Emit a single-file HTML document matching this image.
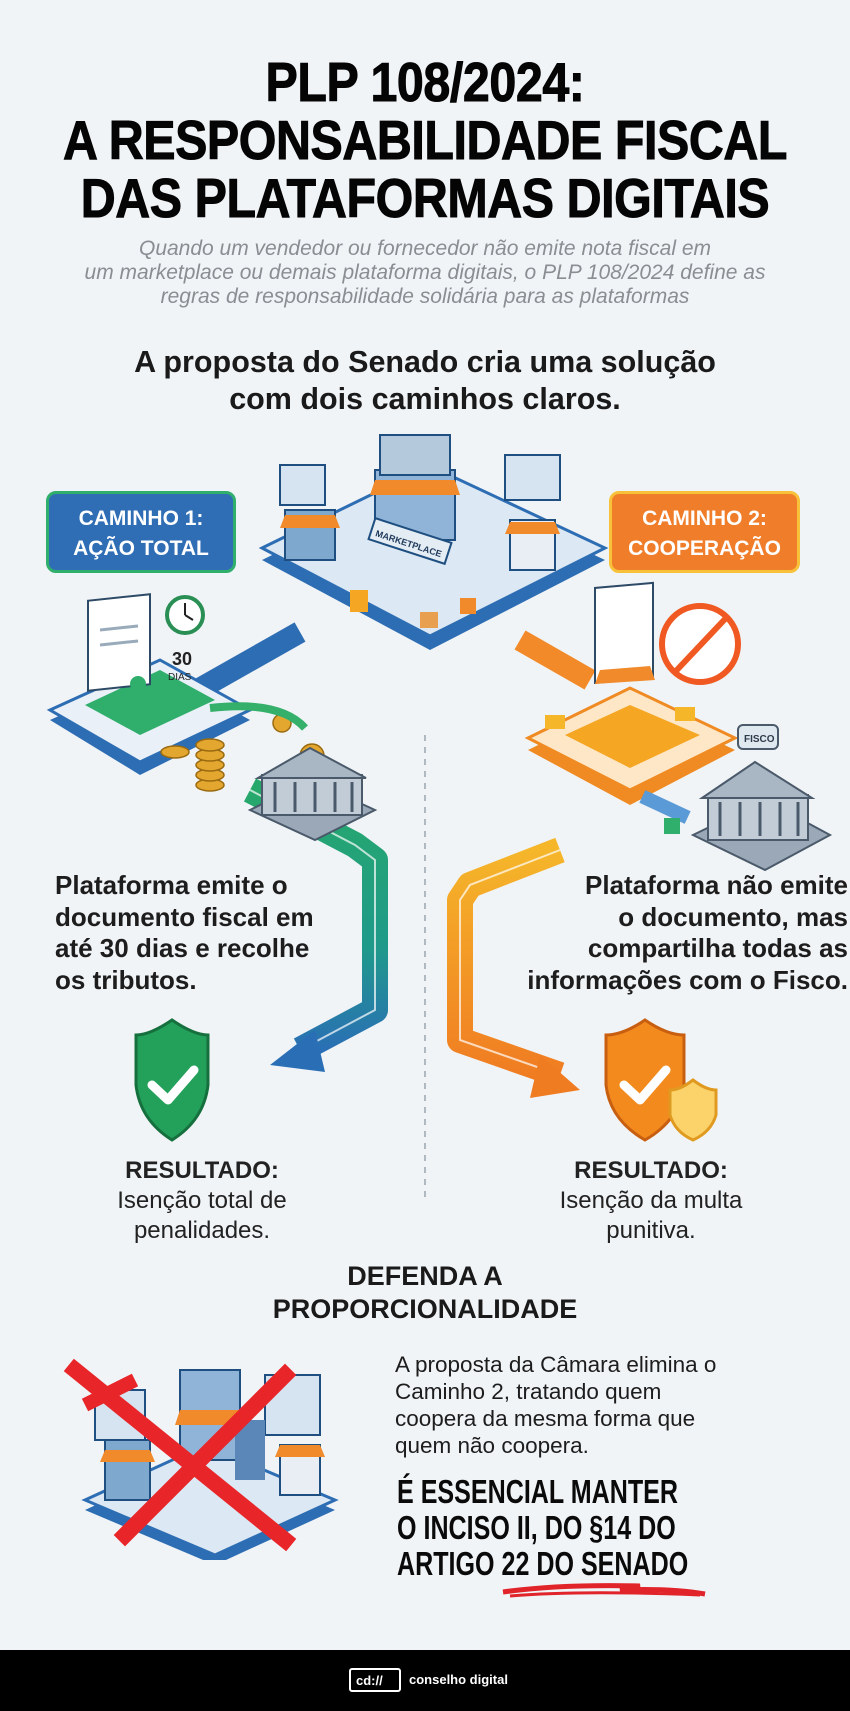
<!DOCTYPE html>
<html><head><meta charset="utf-8"><style>
*{margin:0;padding:0;box-sizing:border-box}
body{width:850px;height:1711px;background:#f1f4f7;font-family:"Liberation Sans",sans-serif;position:relative;overflow:hidden;color:#161616}
.a{position:absolute}
.t{left:0;width:850px;text-align:center;font-weight:bold;font-size:55px;line-height:60px;transform:scaleX(.88);transform-origin:425px 0;letter-spacing:-0.5px;color:#050505;-webkit-text-stroke:1px #050505}
.sub{left:0;width:850px;text-align:center;font-style:italic;color:#8a8d92;font-size:21px;line-height:24px}
.h2{left:0;width:850px;text-align:center;font-weight:bold;font-size:30.5px;line-height:37px;color:#1a1a1a}
.box{color:#fff;font-weight:bold;font-size:21px;line-height:30px;text-align:center;border-radius:10px;padding-top:10px}
.p{font-weight:bold;font-size:26px;line-height:31.5px;color:#1d1d1d}
.res{text-align:center;font-size:24px;line-height:30px;color:#222}
.cond{font-weight:bold;font-size:33px;line-height:36px;transform:scaleX(.76);transform-origin:0 0;color:#0a0a0a;white-space:nowrap}
</style></head><body>
<div class="a t" style="top:52px">PLP 108/2024:</div>
<div class="a t" style="top:110px">A RESPONSABILIDADE FISCAL</div>
<div class="a t" style="top:168px">DAS PLATAFORMAS DIGITAIS</div>
<div class="a sub" style="top:237px">Quando um vendedor ou fornecedor não emite nota fiscal em<br>um marketplace ou demais plataforma digitais, o PLP 108/2024 define as<br>regras de responsabilidade solidária para as plataformas</div>
<div class="a h2" style="top:344px">A proposta do Senado cria uma solução<br>com dois caminhos claros.</div>

<svg class="a" style="left:0;top:420px" width="850" height="780" viewBox="0 420 850 780">
<defs>
<linearGradient id="gA" x1="0" y1="0" x2="0" y2="1"><stop offset="0" stop-color="#27a86b"/><stop offset=".6" stop-color="#1f9a8a"/><stop offset="1" stop-color="#2a6fb5"/></linearGradient>
<linearGradient id="oA" x1="0" y1="0" x2="0" y2="1"><stop offset="0" stop-color="#f5b62a"/><stop offset="1" stop-color="#f07c22"/></linearGradient>
</defs>
<line x1="425" y1="735" x2="425" y2="1265" stroke="#9aa4ae" stroke-width="1.5" stroke-dasharray="6 6"/>
<path d="M300,632 L180,700" stroke="#2d6db3" stroke-width="22" fill="none"/>
<path d="M250,790 L355,845 L375,860 L375,1010 L300,1050" stroke="url(#gA)" stroke-width="26" fill="none" stroke-linejoin="round"/>
<path d="M250,790 L355,845 L375,860 L375,1010 L300,1050" stroke="#fff" stroke-width="2" fill="none" opacity=".7"/>
<polygon points="270,1065 315,1030 325,1072" fill="#2a6fb5"/>
<path d="M520,640 L590,680" stroke="#f28a2a" stroke-width="22" fill="none"/>
<path d="M560,850 L470,885 L460,900 L460,1040 L560,1075" stroke="url(#oA)" stroke-width="26" fill="none" stroke-linejoin="round"/>
<path d="M560,850 L470,885 L460,900 L460,1040 L560,1075" stroke="#fff" stroke-width="2" fill="none" opacity=".7"/>
<polygon points="580,1090 540,1055 530,1098" fill="#f07c22"/>
<polygon points="262,560 430,478 605,560 430,650" fill="#2d6db3"/>
<polygon points="262,548 430,466 605,548 430,636" fill="#dce8f3" stroke="#2d6db3" stroke-width="3"/>
<rect x="375" y="470" width="80" height="70" fill="#8fb4d8" stroke="#1e4f80" stroke-width="2"/>
<rect x="380" y="435" width="70" height="40" fill="#b5c9dc" stroke="#1e4f80" stroke-width="2"/>
<polygon points="375,480 455,480 460,495 370,495" fill="#f08a2a"/>
<rect x="285" y="510" width="50" height="50" fill="#7fa8cf" stroke="#1e4f80" stroke-width="2"/>
<polygon points="285,515 335,515 340,528 280,528" fill="#f08a2a"/>
<rect x="510" y="520" width="45" height="50" fill="#e8eef4" stroke="#1e4f80" stroke-width="2"/>
<polygon points="510,522 555,522 560,534 505,534" fill="#f08a2a"/>
<rect x="280" y="465" width="45" height="40" fill="#d6e4f1" stroke="#1e4f80" stroke-width="2"/>
<rect x="505" y="455" width="55" height="45" fill="#d6e4f1" stroke="#1e4f80" stroke-width="2"/>
<rect x="370" y="530" width="80" height="22" fill="#e4ecf4" stroke="#1e4f80" stroke-width="2" transform="rotate(18 410 541)"/>
<text x="375" y="547" font-size="9" font-weight="bold" fill="#1e3a5a" transform="rotate(18 410 541)">MARKETPLACE</text>
<rect x="350" y="590" width="18" height="22" fill="#f5a623"/>
<rect x="420" y="612" width="18" height="16" fill="#e8a050"/>
<rect x="460" y="598" width="16" height="16" fill="#f08a2a"/>
<polygon points="50,720 160,670 250,720 140,775" fill="#2d6db3"/>
<polygon points="50,710 160,660 250,710 140,762" fill="#e9f0f7" stroke="#2d6db3" stroke-width="3"/>
<polygon points="85,705 160,670 215,700 140,735" fill="#2fae6c"/>
<rect x="88" y="610" width="62" height="90" fill="#fff" stroke="#2d4a66" stroke-width="2" transform="skewY(-6)"/>
<line x1="100" y1="630" x2="138" y2="626" stroke="#9ab" stroke-width="3"/>
<line x1="100" y1="645" x2="138" y2="641" stroke="#9ab" stroke-width="3"/>
<circle cx="138" cy="684" r="8" fill="#2fae6c"/>
<circle cx="185" cy="615" r="18" fill="#fff" stroke="#2a8f55" stroke-width="4"/>
<line x1="185" y1="615" x2="185" y2="603" stroke="#222" stroke-width="2"/><line x1="185" y1="615" x2="193" y2="620" stroke="#222" stroke-width="2"/>
<text x="172" y="665" font-size="18" font-weight="bold" fill="#222">30</text>
<text x="168" y="680" font-size="10" fill="#222">DIAS</text>
<g fill="#e3a72f" stroke="#9a6a10" stroke-width="1.5">
<ellipse cx="175" cy="752" rx="14" ry="6"/><ellipse cx="210" cy="785" rx="14" ry="6"/><ellipse cx="210" cy="775" rx="14" ry="6"/><ellipse cx="210" cy="765" rx="14" ry="6"/><ellipse cx="210" cy="755" rx="14" ry="6"/><ellipse cx="210" cy="745" rx="14" ry="6"/>
<circle cx="282" cy="723" r="9"/><circle cx="312" cy="756" r="12"/></g>
<path d="M210,708 Q280,700 305,728" stroke="#35b06a" stroke-width="8" fill="none"/>
<polygon points="250,810 310,780 375,810 315,840" fill="#9aa8b8" stroke="#4a5a6a" stroke-width="2"/>
<rect x="262" y="775" width="100" height="40" fill="#c2ccd6" stroke="#4a5a6a" stroke-width="2"/>
<polygon points="258,778 310,748 366,778" fill="#a9b6c4" stroke="#4a5a6a" stroke-width="2"/>
<g stroke="#4a5a6a" stroke-width="3"><line x1="275" y1="782" x2="275" y2="812"/><line x1="295" y1="782" x2="295" y2="812"/><line x1="315" y1="782" x2="315" y2="812"/><line x1="335" y1="782" x2="335" y2="812"/><line x1="352" y1="782" x2="352" y2="812"/></g>
<polygon points="528,750 630,700 735,750 630,805" fill="#f08a22"/>
<polygon points="528,738 630,688 735,738 630,790" fill="#fde7c6" stroke="#f08a22" stroke-width="3"/>
<polygon points="565,735 630,705 700,735 630,768" fill="#f5a623"/>
<rect x="595" y="640" width="58" height="95" fill="#fff" stroke="#2d4a66" stroke-width="2" transform="skewY(-5)"/>
<polygon points="600,670 650,666 655,680 595,684" fill="#f08a2a"/>
<circle cx="700" cy="644" r="38" fill="#fff" stroke="#f05a22" stroke-width="6"/>
<line x1="675" y1="672" x2="726" y2="618" stroke="#f05a22" stroke-width="6"/>
<rect x="545" y="715" width="20" height="14" fill="#f5b62a"/><rect x="675" y="707" width="20" height="14" fill="#f5b62a"/>
<rect x="640" y="800" width="50" height="14" fill="#5a9ad6" transform="rotate(25 665 807)"/>
<rect x="664" y="818" width="16" height="16" fill="#2fae6c"/>
<rect x="738" y="725" width="40" height="24" rx="5" fill="#dfe7ef" stroke="#4a5a6a" stroke-width="2"/>
<text x="744" y="742" font-size="10" font-weight="bold" fill="#2d3a4a">FISCO</text>
<polygon points="693,835 765,800 830,835 765,870" fill="#9aa8b8" stroke="#4a5a6a" stroke-width="2"/>
<rect x="708" y="795" width="100" height="45" fill="#c2ccd6" stroke="#4a5a6a" stroke-width="2"/>
<polygon points="702,798 755,762 812,798" fill="#a9b6c4" stroke="#4a5a6a" stroke-width="2"/>
<g stroke="#4a5a6a" stroke-width="3"><line x1="720" y1="802" x2="720" y2="836"/><line x1="740" y1="802" x2="740" y2="836"/><line x1="760" y1="802" x2="760" y2="836"/><line x1="780" y1="802" x2="780" y2="836"/><line x1="798" y1="802" x2="798" y2="836"/></g>
<path d="M172,1020 Q150,1035 136,1035 L136,1085 Q140,1120 172,1140 Q204,1120 208,1085 L208,1035 Q194,1035 172,1020Z" fill="#23a05a" stroke="#16703e" stroke-width="3"/>
<path d="M152,1085 L168,1100 L194,1070" stroke="#fff" stroke-width="9" fill="none" stroke-linecap="round" stroke-linejoin="round"/>
<path d="M645,1020 Q623,1035 606,1035 L606,1085 Q610,1120 645,1140 Q680,1120 684,1085 L684,1035 Q667,1035 645,1020Z" fill="#f28a1e" stroke="#c85f10" stroke-width="3"/>
<path d="M624,1085 L640,1100 L666,1070" stroke="#fff" stroke-width="9" fill="none" stroke-linecap="round" stroke-linejoin="round"/>
<path d="M693,1080 Q680,1090 670,1090 L670,1115 Q675,1132 693,1140 Q711,1132 716,1115 L716,1090 Q706,1090 693,1080Z" fill="#fbd36a" stroke="#e09a20" stroke-width="3"/>
</svg>

<div class="a box" style="left:46px;top:491px;width:190px;height:82px;background:#2f6db5;border:3px solid #2fae6c">CAMINHO 1:<br>AÇÃO TOTAL</div>
<div class="a box" style="left:609px;top:491px;width:191px;height:82px;background:#f07d2a;border:3px solid #f7c23a">CAMINHO 2:<br>COOPERAÇÃO</div>

<div class="a p" style="left:55px;top:870px">Plataforma emite o<br>documento fiscal em<br>até 30 dias e recolhe<br>os tributos.</div>
<div class="a p" style="left:450px;top:870px;width:398px;text-align:right">Plataforma não emite<br>o documento, mas<br>compartilha todas as<br>informações com o Fisco.</div>

<div class="a res" style="left:62px;top:1156px;width:280px"><b>RESULTADO:</b><br>Isenção total de<br>penalidades.</div>
<div class="a res" style="left:511px;top:1156px;width:280px"><b>RESULTADO:</b><br>Isenção da multa<br>punitiva.</div>

<div class="a h2" style="top:1260px;font-size:27px;line-height:33px">DEFENDA A<br>PROPORCIONALIDADE</div>

<svg class="a" style="left:55px;top:1350px" width="290" height="210" viewBox="0 0 290 210">
<polygon points="30,160 150,105 280,160 160,215" fill="#2d6db3"/>
<polygon points="30,150 150,95 280,150 160,205" fill="#dce8f3" stroke="#2d6db3" stroke-width="3"/>
<rect x="125" y="20" width="60" height="90" fill="#8fb4d8" stroke="#1e4f80" stroke-width="2"/>
<polygon points="125,60 185,60 190,75 120,75" fill="#f08a2a"/>
<rect x="50" y="90" width="45" height="60" fill="#7fa8cf" stroke="#1e4f80" stroke-width="2"/>
<polygon points="50,100 95,100 100,112 45,112" fill="#f08a2a"/>
<rect x="225" y="95" width="40" height="50" fill="#e8eef4" stroke="#1e4f80" stroke-width="2"/>
<polygon points="225,95 265,95 270,107 220,107" fill="#f08a2a"/>
<rect x="40" y="40" width="50" height="50" fill="#d6e4f1" stroke="#1e4f80" stroke-width="2"/>
<rect x="210" y="25" width="55" height="60" fill="#d6e4f1" stroke="#1e4f80" stroke-width="2"/>
<rect x="180" y="70" width="30" height="60" fill="#5b86b8"/>
<path d="M20,20 L230,190 M230,25 L70,185" stroke="#e8262a" stroke-width="16" stroke-linecap="square"/>
<path d="M30,55 L80,30" stroke="#e8262a" stroke-width="14"/>
</svg>

<div class="a" style="left:395px;top:1351px;font-size:22.5px;line-height:27px;color:#1d1d1d">A proposta da Câmara elimina o<br>Caminho 2, tratando quem<br>coopera da mesma forma que<br>quem não coopera.</div>
<div class="a cond" style="left:397px;top:1474px">É ESSENCIAL MANTER<br>O INCISO II, DO §14 DO<br>ARTIGO 22 DO SENADO</div>
<svg class="a" style="left:500px;top:1580px" width="210" height="22"><path d="M3,12 Q60,4 140,6 L120,10 Q170,8 205,14" stroke="#e0242a" stroke-width="5" fill="none"/><path d="M10,16 Q80,10 200,15" stroke="#e0242a" stroke-width="3" fill="none"/></svg>

<div class="a" style="left:0;top:1650px;width:850px;height:61px;background:#000"></div>
<div class="a" style="left:349px;top:1668px;width:52px;height:24px;border:2px solid #fff;border-radius:3px;color:#fff;font-size:13px;font-weight:bold;padding:3px 0 0 5px">cd://</div>
<div class="a" style="left:409px;top:1672px;color:#fff;font-size:13px;font-weight:bold">conselho digital</div>
</body></html>
